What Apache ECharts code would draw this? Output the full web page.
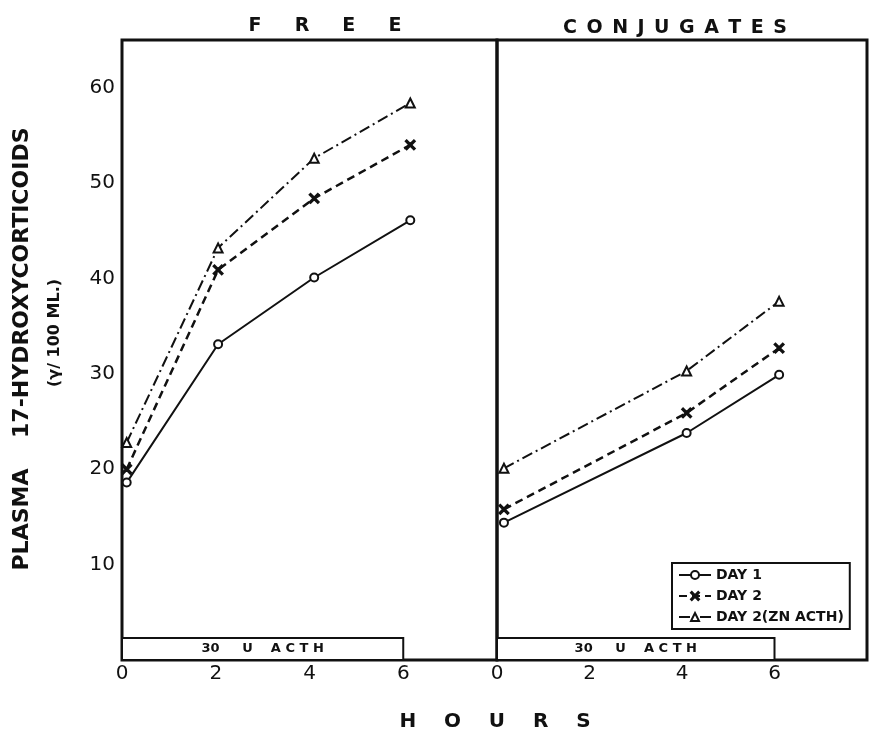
<!DOCTYPE html>
<html>
<head>
<meta charset="utf-8">
<script src="https://cdn.jsdelivr.net/npm/echarts@6/dist/echarts.min.js"></script>
<style>
  html, body { margin: 0; padding: 0; background: #fff; }
  #chart { width: 870px; height: 732px; }
</style>
</head>
<body>
<div id="chart"></div>
<script>
// hours after start
var freeHours = [0.1, 2.05, 4.1, 6.15];
var conjHours = [0.15, 4.1, 6.1];

// plasma 17-hydroxycorticoids, gamma / 100 ml
var freeDay1 = [18.6, 33.1, 40.1, 46.1];
var freeDay2 = [20.0, 40.9, 48.4, 54.0];
var freeDay2Zn = [22.8, 43.2, 52.6, 58.4];

var conjDay1 = [14.4, 23.8, 29.9];
var conjDay2 = [15.8, 25.9, 32.7];
var conjDay2Zn = [20.1, 30.3, 37.6];

var seriesNames = ['DAY 1', 'DAY 2', 'DAY 2(ZN ACTH)'];
var xTicks = [0, 2, 4, 6];
var yTicks = [10, 20, 30, 40, 50, 60];

// ACTH infusion bar: hours and height in axis units
var acthFrom = 0, acthTo = 6, acthHeight = 2.3;
var acthLabel = '30     U    A C T H';

var FONT = 'DejaVu Sans';
var INK = '#111';
var crossPath = 'path://M0,1L1,0L5,4L9,0L10,1L6,5L10,9L9,10L5,6L1,10L0,9L4,5Z';

function pairs(xs, ys) {
  return xs.map(function (x, i) { return [x, ys[i]]; });
}

var styles = [
  { symbol: 'emptyCircle', symbolSize: 8, lineStyle: { type: 'solid', width: 2 } },
  { symbol: crossPath, symbolSize: 9, lineStyle: { type: [8, 5], width: 2.5 } },
  { symbol: 'emptyTriangle', symbolSize: 9, lineStyle: { type: [11, 4, 2, 4], width: 2 } }
];

function makeSeries(name, idx, data, axis, withBar) {
  var st = styles[idx];
  var s = {
    name: name,
    type: 'line',
    xAxisIndex: axis,
    yAxisIndex: axis,
    data: data,
    symbol: st.symbol,
    symbolSize: st.symbolSize,
    showAllSymbol: true,
    animation: false,
    color: INK,
    itemStyle: { color: INK, borderColor: INK, borderWidth: 2 },
    lineStyle: { color: INK, type: st.lineStyle.type, width: st.lineStyle.width }
  };
  if (withBar) {
    s.markArea = {
      silent: true,
      itemStyle: { color: '#fff', borderColor: INK, borderWidth: 2 },
      label: {
        show: true, position: 'inside', color: INK,
        fontFamily: FONT, fontWeight: 'bold', fontSize: 13
      },
      data: [[{ name: acthLabel, coord: [acthFrom, 0] }, { coord: [acthTo, acthHeight] }]]
    };
  }
  return s;
}

function xAxisFor(gridIndex) {
  return {
    type: 'value', gridIndex: gridIndex, min: 0, max: 8, interval: 2,
    axisLine: { show: false }, axisTick: { show: false }, splitLine: { show: false },
    axisLabel: {
      margin: 4, color: INK, fontFamily: FONT, fontSize: 20,
      formatter: function (v) { return xTicks.indexOf(v) >= 0 ? String(v) : ''; }
    }
  };
}

function yAxisFor(gridIndex, labels) {
  return {
    type: 'value', gridIndex: gridIndex, min: 0, max: 65, interval: 10,
    axisLine: { show: false }, axisTick: { show: false }, splitLine: { show: false },
    axisLabel: {
      show: labels, margin: 7, color: INK, fontFamily: FONT, fontSize: 20,
      formatter: function (v) { return yTicks.indexOf(v) >= 0 ? String(v) : ''; }
    }
  };
}

var chart = echarts.init(document.getElementById('chart'));
chart.setOption({
  backgroundColor: '#fff',
  animation: false,
  title: [
    { text: 'F     R     E     E', left: 320, top: 12, textAlign: 'center',
      textStyle: { fontFamily: FONT, fontWeight: 'bold', fontSize: 19, color: INK } },
    { text: 'C\u2002O\u2002N\u2002J\u2002U\u2002G\u2002A\u2002T\u2002E\u2002S', left: 670, top: 14, textAlign: 'center',
      textStyle: { fontFamily: FONT, fontWeight: 'bold', fontSize: 19, color: INK } },
    { text: 'H    O    U    R    S', left: 490, top: 707, textAlign: 'center',
      textStyle: { fontFamily: FONT, fontWeight: 'bold', fontSize: 20, color: INK } }
  ],
  graphic: [
    { type: 'text', x: 22, y: 349, rotation: Math.PI / 2,
      style: { text: 'PLASMA    17-HYDROXYCORTICOIDS', fill: INK, font: 'bold 22px "DejaVu Sans"',
        textAlign: 'center', textVerticalAlign: 'middle' } },
    { type: 'text', x: 55, y: 333, rotation: Math.PI / 2,
      style: { text: '(\u03B3/ 100 ML.)', fill: INK, font: 'bold 16px "DejaVu Sans"',
        textAlign: 'center', textVerticalAlign: 'middle' } }
  ],
  legend: {
    orient: 'vertical', left: 672, top: 563,
    itemWidth: 32, itemHeight: 10, itemGap: 7,
    borderColor: INK, borderWidth: 2, padding: [5, 6, 5, 6],
    textStyle: { fontFamily: FONT, fontWeight: 'bold', fontSize: 14, color: INK },
    data: seriesNames
  },
  grid: [
    { left: 122, top: 40, width: 375, height: 620, show: true,
      borderColor: INK, borderWidth: 3, backgroundColor: 'transparent' },
    { left: 497, top: 40, width: 371, height: 620, show: true,
      borderColor: INK, borderWidth: 3, backgroundColor: 'transparent' }
  ],
  xAxis: [xAxisFor(0), xAxisFor(1)],
  yAxis: [yAxisFor(0, true), yAxisFor(1, false)],
  series: [
    makeSeries(seriesNames[0], 0, pairs(freeHours, freeDay1), 0, true),
    makeSeries(seriesNames[1], 1, pairs(freeHours, freeDay2), 0, false),
    makeSeries(seriesNames[2], 2, pairs(freeHours, freeDay2Zn), 0, false),
    makeSeries(seriesNames[0], 0, pairs(conjHours, conjDay1), 1, true),
    makeSeries(seriesNames[1], 1, pairs(conjHours, conjDay2), 1, false),
    makeSeries(seriesNames[2], 2, pairs(conjHours, conjDay2Zn), 1, false)
  ]
});
</script>
</body>
</html>
